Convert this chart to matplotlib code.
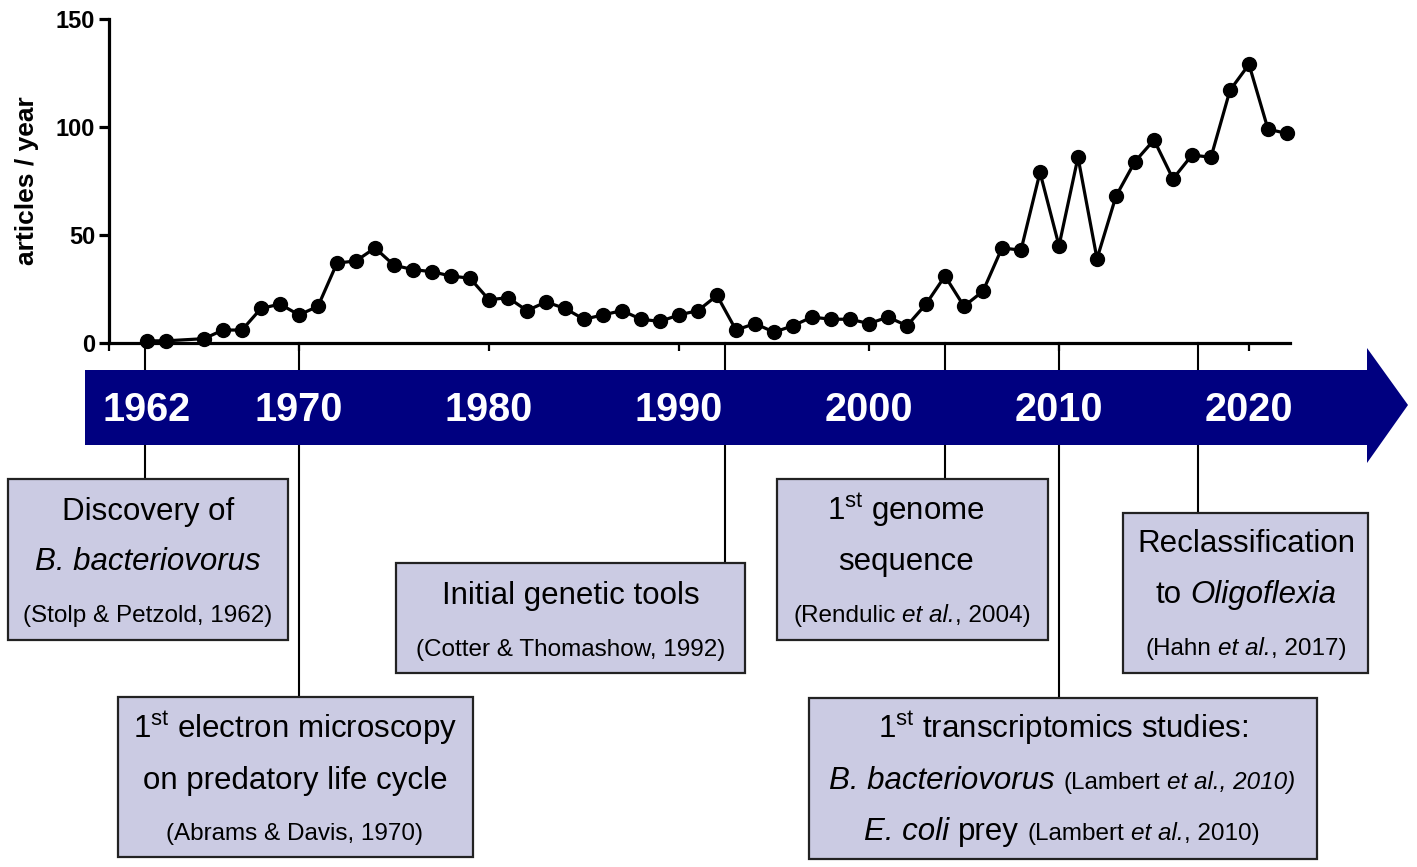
import matplotlib
matplotlib.use("Agg")
import matplotlib.pyplot as plt
import matplotlib.transforms as mtransforms
from matplotlib.patches import Polygon, Rectangle

plt.rcParams['font.family'] = ['Liberation Sans', 'DejaVu Sans']
plt.rcParams['mathtext.fontset'] = 'custom'
plt.rcParams['mathtext.rm'] = 'Liberation Sans'
plt.rcParams['mathtext.it'] = 'Liberation Sans:italic'
plt.rcParams['mathtext.bf'] = 'Liberation Sans:bold'

# articles per year (1964 has no point)
years = [1962, 1963, 1965, 1966, 1967, 1968, 1969, 1970, 1971, 1972, 1973,
         1974, 1975, 1976, 1977, 1978, 1979, 1980, 1981, 1982, 1983, 1984,
         1985, 1986, 1987, 1988, 1989, 1990, 1991, 1992, 1993, 1994, 1995,
         1996, 1997, 1998, 1999, 2000, 2001, 2002, 2003, 2004, 2005, 2006,
         2007, 2008, 2009, 2010, 2011, 2012, 2013, 2014, 2015, 2016, 2017,
         2018, 2019, 2020, 2021, 2022]
articles = [1, 1, 2, 6, 6, 16, 18, 13, 17, 37, 38,
            44, 36, 34, 33, 31, 30, 20, 21, 15, 19, 16,
            11, 13, 15, 11, 10, 13, 15, 22, 6, 9, 5,
            8, 12, 11, 11, 9, 12, 8, 18, 31, 17, 24,
            44, 43, 79, 45, 86, 39, 68, 84, 94, 76, 87,
            86, 117, 129, 99, 97]

decade_labels = [1962, 1970, 1980, 1990, 2000, 2010, 2020]
event_years = [1961.9, 1970, 1992.4, 2004, 2010, 2017.3]

NAVY = '#000080'
BOX = '#cbcbe3'

W, H = 1417, 867
fig = plt.figure(figsize=(W / 100, H / 100), dpi=100)
renderer = fig.canvas.get_renderer()

# ---- publication curve ----
ax = fig.add_axes([109 / W, (H - 343) / H, (1290 - 109) / W, 324 / H])
ax.plot(years, articles, color='black', lw=2.3, marker='o', ms=10,
        zorder=3, clip_on=False)
ax.set_xlim(1960, 1960 + (1290 - 109) / 19)
ax.set_ylim(0, 150)
ax.set_yticks([0, 50, 100, 150])
ax.set_xticks(range(1960, 2021, 10))
ax.set_xticklabels([])
for s in ('top', 'right'):
    ax.spines[s].set_visible(False)
for s in ('left', 'bottom'):
    ax.spines[s].set_linewidth(2.3)
ax.tick_params(axis='y', length=7, width=2.3, labelsize=17, pad=3)
ax.tick_params(axis='x', length=6, width=1.6)
for lab in ax.get_yticklabels():
    lab.set_fontweight('bold')
ax.set_ylabel('articles / year', fontsize=19, fontweight='bold', labelpad=12)
ax.patch.set_alpha(0)

# ---- timeline overlay in pixel space ----
ov = fig.add_axes([0, 0, 1, 1], zorder=-1)
ov.set_xlim(0, W)
ov.set_ylim(H, 0)
ov.axis('off')
yr = mtransforms.blended_transform_factory(ax.transData, ov.transData)

box_tops = [479, 697, 563, 479, 698, 513]
for ex, bt in zip(event_years, box_tops):
    ov.plot([ex, ex], [343, bt], color='black', lw=1.5, transform=yr, zorder=1)

ov.add_patch(Polygon([(85, 370), (1367, 370), (1367, 348), (1408, 405),
                      (1367, 463), (1367, 445), (85, 445)],
                     closed=True, facecolor=NAVY, edgecolor='none', zorder=2))
for d in decade_labels:
    ov.text(d, 410, str(d), transform=yr, color='white', fontsize=28.5,
            fontweight='bold', ha='center', va='center', zorder=3)

# boxes: left, top, right, bottom
boxes = [(8, 479, 288, 640), (118, 697, 473, 857), (396, 563, 745, 673),
         (777, 479, 1048, 640), (809, 698, 1317, 859), (1123, 513, 1368, 673)]
for x0, y0, x1, y1 in boxes:
    ov.add_patch(Rectangle((x0, y0), x1 - x0, y1 - y0, facecolor=BOX,
                           edgecolor='#222222', lw=1.6, zorder=2))

BIG, SMALL = 22.5, 17.5
N, I = 'normal', 'italic'


def rich(xc, y, parts):
    """centre a line made of (text, size, style) pieces; None piece = space"""
    items = []
    for p in parts:
        if p[0] is None:
            items.append((None, p[1] * 0.278 * 100 / 72))
            continue
        s, size, st = p
        t = ov.text(0, y, s, fontsize=size, style=st, ha='left',
                    va='baseline', zorder=4)
        items.append((t, t.get_window_extent(renderer).width))
    x = xc - sum(w for _, w in items) / 2
    for t, w in items:
        if t is not None:
            t.set_x(x)
        x += w


def put(x, y, s, size=BIG, style=N):
    ov.text(x, y, s, fontsize=size, style=style, ha='center',
            va='baseline', zorder=4)


def cite(name, year, tail_italic=False):
    if tail_italic:
        return [(name, SMALL, N), (None, SMALL), ('et al., ' + year + ')', SMALL, I)]
    return [(name, SMALL, N), (None, SMALL), ('et al.', SMALL, I),
            (', ' + year + ')', SMALL, N)]


put(148, 520, 'Discovery of')
put(148, 570, 'B. bacteriovorus', style=I)
put(148, 622, '(Stolp & Petzold, 1962)', SMALL)

put(295, 738, r'$1^{\mathrm{st}}$ electron microscopy')
put(295, 789, 'on predatory life cycle')
put(295, 840, '(Abrams & Davis, 1970)', SMALL)

put(571, 604, 'Initial genetic tools')
put(571, 656, '(Cotter & Thomashow, 1992)', SMALL)

put(906, 520, r'$1^{\mathrm{st}}$ genome')
put(906, 570, 'sequence')
rich(912, 622, cite('(Rendulic', '2004'))

put(1063, 738, r'$1^{\mathrm{st}}$ transcriptomics studies:')
rich(1062, 789, [('B. bacteriovorus', BIG, I), (None, BIG)]
     + cite('(Lambert', '2010', tail_italic=True))
rich(1062, 840, [('E. coli', BIG, I), (None, BIG), ('prey', BIG, N), (None, BIG)]
     + cite('(Lambert', '2010'))

put(1246, 552, 'Reclassification')
rich(1246, 603, [('to', BIG, N), (None, BIG), ('Oligoflexia', BIG, I)])
rich(1246, 655, cite('(Hahn', '2017'))

fig.savefig('out.png', dpi=100)
